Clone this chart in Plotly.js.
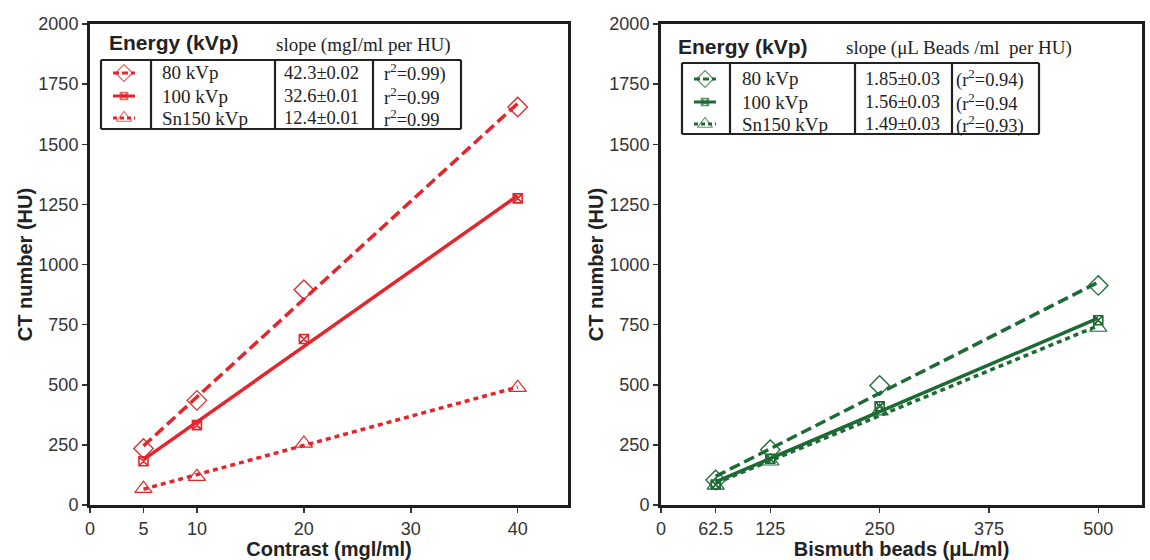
<!DOCTYPE html>
<html>
<head>
<meta charset="utf-8">
<script src="https://cdn.plot.ly/plotly-3.0.1.min.js"></script>
<style>html,body{margin:0;padding:0;background:#fff;}#chart{width:1150px;height:560px;}</style>
</head>
<body>
<div id="chart"></div>
<script>
// ---- data ----
const contrast = [5, 10, 20, 40];
const iodine80 = [235, 435, 895, 1655];
const iodine100 = [182, 332, 690, 1275];
const iodineSn150 = [68, 118, 256, 488];

const beads = [62.5, 125, 250, 500];
const bismuth80 = [104, 230, 497, 913];
const bismuth100 = [85, 192, 410, 768];
const bismuthSn150 = [82, 182, 390, 738];

const energyLabels = ['80 kVp', '100 kVp', 'Sn150 kVp'];
const iodineSlopes = ['42.3±0.02', '32.6±0.01', '12.4±0.01'];
const iodineR2 = ['r<sup>2</sup>=0.99)', 'r<sup>2</sup>=0.99', 'r<sup>2</sup>=0.99'];
const bismuthSlopes = ['1.85±0.03', '1.56±0.03', '1.49±0.03'];
const bismuthR2 = ['(r<sup>2</sup>=0.94)', '(r<sup>2</sup>=0.94', '(r<sup>2</sup>=0.93)'];

const contrastTicks = [0, 5, 10, 20, 30, 40];
const beadTicks = [0, 62.5, 125, 250, 375, 500];
const yTicks = [0, 250, 500, 750, 1000, 1250, 1500, 1750, 2000];

// ---- styling ----
const RED = '#e3262b';
const GREEN = '#1e6a34';
const W = 1150, H = 560;
const px = x => x / W;
const py = y => 1 - y / H;
const SANS = 'Liberation Sans, Arial, sans-serif';
const SERIF = 'Liberation Serif, Times New Roman, serif';

const styles = [
  {symbol: 'diamond-open', size: 15, dash: '11px,5px', mw: 1.3},
  {symbol: 'square-x-open', size: 9, dash: 'solid', mw: 1.6},
  {symbol: 'triangle-up-open', size: 15, dash: '5px,4px', mw: 1.2}
];

function fitEnds(xs, ys) {
  const n = xs.length;
  const mx = xs.reduce((a, b) => a + b, 0) / n;
  const my = ys.reduce((a, b) => a + b, 0) / n;
  let sxy = 0, sxx = 0;
  for (let i = 0; i < n; i++) { sxy += (xs[i] - mx) * (ys[i] - my); sxx += (xs[i] - mx) ** 2; }
  const b = sxy / sxx, a = my - b * mx;
  const x0 = xs[0], x1 = xs[n - 1];
  return {x: [x0, x1], y: [a + b * x0, a + b * x1]};
}

const traces = [];
function addSeries(xs, ys, st, color, xa, ya) {
  const f = fitEnds(xs, ys);
  traces.push({x: f.x, y: f.y, xaxis: xa, yaxis: ya, mode: 'lines', hoverinfo: 'skip',
    line: {color: color, width: 3.5, dash: st.dash}});
  traces.push({x: xs, y: ys, xaxis: xa, yaxis: ya, mode: 'markers', cliponaxis: false,
    marker: {symbol: st.symbol, size: st.size, color: color, line: {color: color, width: st.mw}}});
}
addSeries(contrast, iodine80, styles[0], RED, 'x', 'y');
addSeries(contrast, iodine100, styles[1], RED, 'x', 'y');
addSeries(contrast, iodineSn150, styles[2], RED, 'x', 'y');
addSeries(beads, bismuth80, styles[0], GREEN, 'x2', 'y2');
addSeries(beads, bismuth100, styles[1], GREEN, 'x2', 'y2');
addSeries(beads, bismuthSn150, styles[2], GREEN, 'x2', 'y2');

// legend icons on a pixel overlay axis
const shapes = [];
const annotations = [];
function legendTable(cfg) {
  const {left, cols, top, bottom, rows, color, iconX, labelX, slopeX, r2X, slopes, r2s, headX, headY, slopeHead, slopeHeadX} = cfg;
  annotations.push({xref: 'paper', yref: 'paper', x: px(headX), y: py(headY), xanchor: 'left', yanchor: 'middle',
    text: '<b>Energy (kVp)</b>', showarrow: false, font: {family: SANS, size: 21, color: '#222'}});
  annotations.push({xref: 'paper', yref: 'paper', x: px(slopeHeadX), y: py(headY + 2), xanchor: 'left', yanchor: 'middle',
    text: slopeHead, showarrow: false, font: {family: SERIF, size: 19, color: '#222'}});
  const lw = 2.2;
  shapes.push({type: 'line', xref: 'paper', yref: 'paper', x0: px(left), x1: px(cols[cols.length - 1]), y0: py(top), y1: py(top), line: {color: '#222', width: lw}});
  shapes.push({type: 'line', xref: 'paper', yref: 'paper', x0: px(left), x1: px(cols[cols.length - 1]), y0: py(bottom), y1: py(bottom), line: {color: '#222', width: lw}});
  [left].concat(cols).forEach(c => {
    shapes.push({type: 'line', xref: 'paper', yref: 'paper', x0: px(c), x1: px(c), y0: py(top), y1: py(bottom), line: {color: '#222', width: lw}});
  });
  rows.forEach((ry, i) => {
    const st = styles[i];
    traces.push({x: [iconX - 11, iconX, iconX + 11], y: [ry, ry, ry], xaxis: 'x3', yaxis: 'y3', mode: 'lines+markers',
      hoverinfo: 'skip', cliponaxis: false,
      line: {color: color, width: 3, dash: i === 0 ? '6px,3px' : (i === 2 ? '4px,3px' : 'solid')},
      marker: {symbol: st.symbol, size: [0, st.size - 2, 0], color: color, line: {color: color, width: st.mw}}});
    annotations.push({xref: 'paper', yref: 'paper', x: px(labelX), y: py(ry), xanchor: 'left', yanchor: 'middle',
      text: energyLabels[i], showarrow: false, font: {family: SERIF, size: 19, color: '#222'}});
    annotations.push({xref: 'paper', yref: 'paper', x: px(slopeX), y: py(ry), xanchor: 'left', yanchor: 'middle',
      text: slopes[i], showarrow: false, font: {family: SERIF, size: 18.5, color: '#222'}});
    annotations.push({xref: 'paper', yref: 'paper', x: px(r2X), y: py(ry), xanchor: 'left', yanchor: 'middle',
      text: r2s[i], showarrow: false, font: {family: SERIF, size: 18.5, color: '#222'}});
  });
}
legendTable({left: 101, cols: [151, 275, 373, 461], top: 60, bottom: 129, rows: [73, 96, 118], color: RED,
  iconX: 124, labelX: 160, slopeX: 282, r2X: 382, slopes: iodineSlopes, r2s: iodineR2,
  headX: 107, headY: 43, slopeHead: 'slope (mgI/ml per HU)', slopeHeadX: 274});
legendTable({left: 682, cols: [730, 855, 952, 1039], top: 63, bottom: 134, rows: [79, 102, 124], color: GREEN,
  iconX: 705, labelX: 740, slopeX: 863, r2X: 954, slopes: bismuthSlopes, r2s: bismuthR2,
  headX: 676, headY: 46, slopeHead: 'slope (μL Beads /ml  per HU)', slopeHeadX: 844});

const axisCommon = {
  showline: true, mirror: true, linewidth: 3, linecolor: '#1e1e1e',
  ticks: 'outside', ticklen: 5, tickwidth: 1.5, tickcolor: '#333',
  showgrid: false, zeroline: false, fixedrange: true,
  tickfont: {family: SANS, size: 18, color: '#333'}
};
const titleFont = {family: SANS, size: 20, color: '#222', weight: 'bold'};

const layout = {
  width: W, height: H,
  margin: {l: 0, r: 0, t: 0, b: 0},
  paper_bgcolor: '#fff', plot_bgcolor: 'rgba(0,0,0,0)',
  showlegend: false,
  xaxis: Object.assign({}, axisCommon, {domain: [px(90), px(568)], range: [0, 44.7], tickvals: contrastTicks,
    anchor: 'y', title: {text: 'Contrast (mgl/ml)', font: titleFont}}),
  yaxis: Object.assign({}, axisCommon, {domain: [py(505), py(24)], range: [0, 2000], tickvals: yTicks,
    anchor: 'x', title: {text: 'CT number (HU)', font: titleFont}}),
  xaxis2: Object.assign({}, axisCommon, {domain: [px(661), px(1142)], range: [0, 550], tickvals: beadTicks,
    ticktext: beadTicks.map(String), anchor: 'y2', title: {text: 'Bismuth beads (μL/ml)', font: titleFont}}),
  yaxis2: Object.assign({}, axisCommon, {domain: [py(505), py(24)], range: [0, 2000], tickvals: yTicks,
    anchor: 'x2', title: {text: 'CT number (HU)', font: titleFont}}),
  xaxis3: {domain: [0, 1], range: [0, W], visible: false, anchor: 'y3', fixedrange: true},
  yaxis3: {domain: [0, 1], range: [H, 0], visible: false, anchor: 'x3', fixedrange: true},
  shapes: shapes,
  annotations: annotations
};

Plotly.newPlot('chart', traces, layout, {displayModeBar: false, staticPlot: true});
</script>
</body>
</html>
